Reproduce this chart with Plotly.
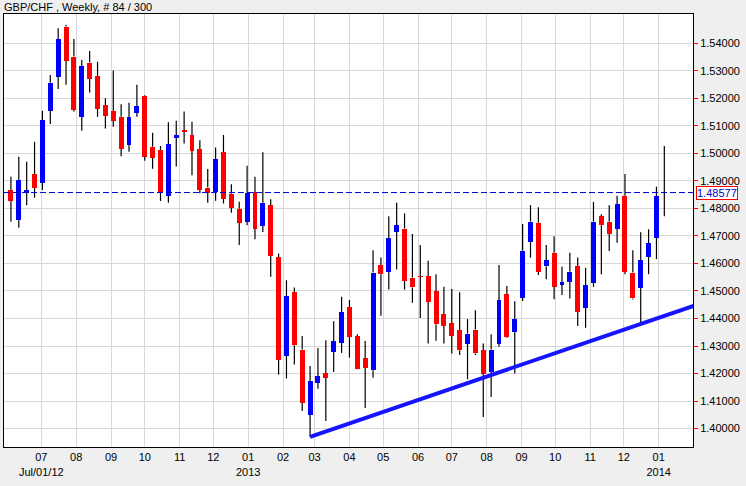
import plotly.graph_objects as go
import pandas as pd

# ---------------- data ----------------
first_week = "2012-06-04"
opens = [1.4867, 1.4758, 1.4857, 1.4925, 1.4893, 1.5155, 1.5279, 1.5461, 1.5352, 1.5133,
         1.5330, 1.5281, 1.5176, 1.5154, 1.5133, 1.5032, 1.5148, 1.5209, 1.5024, 1.5012,
         1.4846, 1.5057, 1.5084, 1.5067, 1.5016, 1.4876, 1.4859, 1.5005, 1.4853, 1.4799,
         1.4752, 1.4859, 1.4737, 1.4812, 1.4623, 1.4264, 1.4495, 1.4287, 1.4049, 1.4166,
         1.4202, 1.4279, 1.4312, 1.4442, 1.4336, 1.4256, 1.4212, 1.4594, 1.4570, 1.4715,
         1.4727, 1.4549, 1.4554, 1.4554, 1.4499, 1.4416, 1.4382, 1.4358, 1.4309, 1.4360,
         1.4285, 1.4206, 1.4309, 1.4488, 1.4352, 1.4476, 1.4679, 1.4748, 1.4590, 1.4639,
         1.4525, 1.4533, 1.4590, 1.4439, 1.4530, 1.4772, 1.4752, 1.4725, 1.4846, 1.4567,
         1.4512, 1.4624, 1.4693, 1.4857]
highs = [1.4915, 1.4988, 1.4970, 1.5042, 1.5155, 1.5285, 1.5455, 1.5467, 1.5416, 1.5339,
         1.5372, 1.5333, 1.5200, 1.5301, 1.5179, 1.5184, 1.5249, 1.5212, 1.5075, 1.5027,
         1.5113, 1.5119, 1.5152, 1.5115, 1.5048, 1.4943, 1.5021, 1.5067, 1.4888, 1.4824,
         1.4955, 1.4915, 1.5004, 1.4833, 1.4636, 1.4539, 1.4513, 1.4336, 1.4227, 1.4293,
         1.4321, 1.4390, 1.4479, 1.4467, 1.4343, 1.4318, 1.4648, 1.4622, 1.4772, 1.4821,
         1.4782, 1.4707, 1.4667, 1.4610, 1.4561, 1.4515, 1.4507, 1.4495, 1.4398, 1.4430,
         1.4309, 1.4343, 1.4594, 1.4518, 1.4463, 1.4743, 1.4812, 1.4804, 1.4667, 1.4699,
         1.4588, 1.4639, 1.4622, 1.4584, 1.4824, 1.4779, 1.4812, 1.4846, 1.4925, 1.4648,
         1.4713, 1.4724, 1.4879, 1.5027]
lows = [1.4752, 1.4730, 1.4812, 1.4839, 1.4867, 1.5107, 1.5234, 1.5249, 1.5152, 1.5082,
        1.5221, 1.5133, 1.5090, 1.5097, 1.4990, 1.5006, 1.5133, 1.4973, 1.4944, 1.4827,
        1.4821, 1.4952, 1.5036, 1.4921, 1.4855, 1.4821, 1.4828, 1.4818, 1.4784, 1.4667,
        1.4739, 1.4688, 1.4714, 1.4552, 1.4196, 1.4182, 1.4233, 1.4064, 1.3970, 1.4145,
        1.4028, 1.4206, 1.4275, 1.4258, 1.4215, 1.4075, 1.4185, 1.4410, 1.4505, 1.4578,
        1.4505, 1.4457, 1.4402, 1.4309, 1.4319, 1.4309, 1.4273, 1.4267, 1.4179, 1.4267,
        1.4042, 1.4115, 1.4297, 1.4330, 1.4200, 1.4464, 1.4621, 1.4558, 1.4543, 1.4470,
        1.4485, 1.4473, 1.4373, 1.4366, 1.4515, 1.4561, 1.4645, 1.4675, 1.4561, 1.4469,
        1.4385, 1.4561, 1.4616, 1.4772]
closes = [1.4828, 1.4903, 1.4867, 1.4875, 1.5121, 1.5257, 1.5416, 1.5337, 1.5158, 1.5318,
          1.5270, 1.5162, 1.5137, 1.5119, 1.5017, 1.5132, 1.5172, 1.4988, 1.4984, 1.4861,
          1.5034, 1.5067, 1.5079, 1.5010, 1.4867, 1.4857, 1.4979, 1.4835, 1.4802, 1.4748,
          1.4857, 1.4726, 1.4821, 1.4628, 1.4249, 1.4481, 1.4303, 1.4093, 1.4173, 1.4190,
          1.4184, 1.4318, 1.4423, 1.4333, 1.4216, 1.4221, 1.4567, 1.4561, 1.4691, 1.4739,
          1.4537, 1.4513, 1.4551, 1.4461, 1.4379, 1.4373, 1.4337, 1.4285, 1.4345, 1.4273,
          1.4200, 1.4287, 1.4467, 1.4333, 1.4398, 1.4646, 1.4752, 1.4570, 1.4612, 1.4515,
          1.4531, 1.4570, 1.4424, 1.4521, 1.4752, 1.4739, 1.4707, 1.4816, 1.4570, 1.4473,
          1.4612, 1.4673, 1.4845, 1.48577]

last_price = 1.48577
trend_dates = ["2013-02-25", "2014-02-01"]
trend_values = [1.3970, 1.4446]

price_ticks = [1.40, 1.41, 1.42, 1.43, 1.44, 1.45, 1.46, 1.47,
               1.48, 1.49, 1.50, 1.51, 1.52, 1.53, 1.54]

month_ticks = ["2012-07-01", "2012-08-01", "2012-09-01", "2012-10-01", "2012-11-01",
               "2012-12-01", "2013-01-01", "2013-02-01", "2013-03-01", "2013-04-01",
               "2013-05-01", "2013-06-01", "2013-07-01", "2013-08-01", "2013-09-01",
               "2013-10-01", "2013-11-01", "2013-12-01", "2014-01-01"]
month_labels = ["07", "08", "09", "10", "11", "12", "01", "02", "03", "04",
                "05", "06", "07", "08", "09", "10", "11", "12", "01"]
sub_label_ticks = ["2012-07-01", "2013-01-01", "2014-01-01"]
sub_labels = ["Jul/01/12", "2013", "2014"]

title_text = "GBP/CHF , Weekly, # 84 / 300"

# ---------------- build ----------------
dates = pd.date_range(first_week, periods=len(opens), freq="7D")
UP = "#0000ff"
DOWN = "#ff0000"
FONT = "Liberation Sans, Arial, sans-serif"

body_base = [min(o, c) for o, c in zip(opens, closes)]
body_h = [abs(c - o) for o, c in zip(opens, closes)]
body_col = [UP if c > o else DOWN for o, c in zip(opens, closes)]

wx, wy = [], []
for d, o, h, l, c in zip(dates, opens, highs, lows, closes):
    top, bot = max(o, c), min(o, c)
    wx += [d, d, None, d, d, None]
    wy += [top, h, None, bot, l, None]

sub_map = dict(zip(sub_label_ticks, sub_labels))
ticktext = [m + ("<br>" + sub_map[t] if t in sub_map else "<br> ")
            for t, m in zip(month_ticks, month_labels)]

fig = go.Figure()
fig.add_trace(go.Scatter(x=wx, y=wy, mode="lines", line=dict(color="black", width=1.2),
                         hoverinfo="skip", showlegend=False))
fig.add_trace(go.Bar(x=dates, y=body_h, base=body_base, marker=dict(color=body_col, line=dict(width=0)),
                     width=4.4 * 86400000, showlegend=False))
fig.add_trace(go.Scatter(x=trend_dates, y=trend_values, mode="lines",
                         line=dict(color="#1414ff", width=4), showlegend=False))

fig.add_shape(type="line", xref="paper", x0=0, x1=1, yref="y", y0=last_price, y1=last_price,
              line=dict(color="#0000cc", width=1, dash="6px,3px"), layer="above")

fig.add_annotation(xref="paper", x=1, xanchor="left", xshift=3, yref="y", y=last_price,
                   text=f"{last_price:.5f}", showarrow=False,
                   font=dict(family=FONT, size=11, color="#0000cc"),
                   bgcolor="white", bordercolor="#ff0000", borderwidth=1, borderpad=0)
fig.add_annotation(xref="paper", x=0, xanchor="left", xshift=-2, yref="paper", y=1,
                   yanchor="middle", yshift=7, text=title_text, showarrow=False,
                   font=dict(family=FONT, size=11, color="black"))

fig.update_layout(
    width=746, height=486,
    margin=dict(l=4, r=53, t=14, b=39, autoexpand=False),
    paper_bgcolor="#efefef", plot_bgcolor="white",
    bargap=0, showlegend=False,
    font=dict(family=FONT, size=11, color="black"),
    xaxis=dict(type="date", range=["2012-05-28 20:00", "2014-01-31 12:00"],
               tickvals=month_ticks, ticktext=ticktext, tickangle=0,
               showgrid=True, gridcolor="#d8d8d8", gridwidth=1, automargin=False,
               ticks="", showline=True, mirror=True, linecolor="black", linewidth=1,
               zeroline=False, fixedrange=True),
    yaxis=dict(side="right", range=[1.39331, 1.55065], tickvals=price_ticks,
               tickformat=".5f", ticks="outside", tickcolor="#ff0000", ticklen=4,
               showgrid=True, gridcolor="#d8d8d8", gridwidth=1, automargin=False,
               showline=True, mirror=True, linecolor="black", linewidth=1,
               zeroline=False, fixedrange=True),
)

fig.write_html("out.html", config={"displayModeBar": False},
               post_script="document.body.style.margin='0';")
